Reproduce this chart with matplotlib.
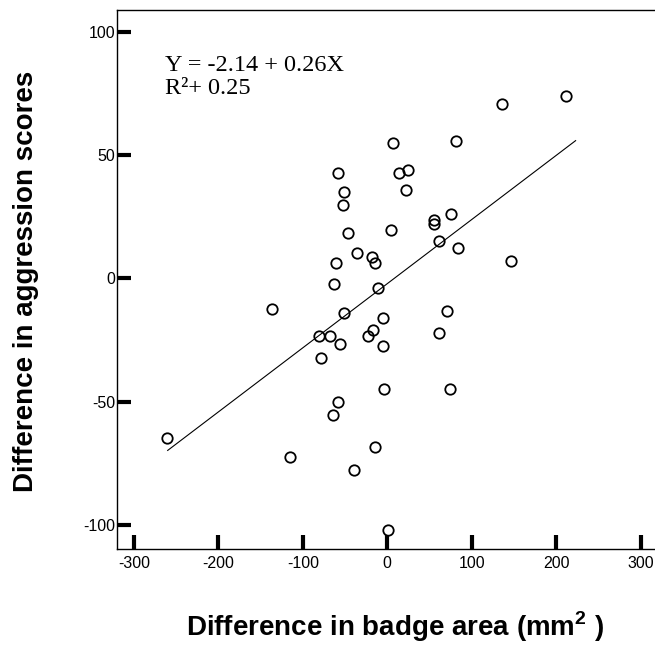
import matplotlib
matplotlib.use("Agg")
import matplotlib.pyplot as plt
import numpy as np

# Data
badge_diff = [135.3, 6.3, 81.3, -58.8, 13.4, 24.0, -50.9, -52.9, 22.1, -47.0,
              4.4, 55.6, 55.6, 75.4, 61.5, 84.0, -35.9, -18.1, -14.2, -60.7,
              146.4, 211.4,
              -62.7, -11.4, -136.5, -50.9, 70.2, -4.7, -16.6, -23.3, -81.3, -67.5,
              -56.0, -5.5, 60.7, -78.5, -3.6, 74.6, -58.8, -64.7, -261.1, -14.6,
              -115.1, -39.1, 1.2]
aggr_diff = [70.8, 54.9, 55.5, 42.7, 42.7, 44.0, 34.9, 29.7, 35.9, 18.2,
             19.8, 23.6, 22.0, 26.0, 15.2, 12.4, 10.1, 8.7, 6.2, 6.2,
             6.9, 73.9,
             -2.4, -3.8, -12.4, -14.0, -13.3, -16.2, -20.9, -23.2, -23.2, -23.2,
             -26.4, -27.3, -22.3, -32.3, -44.8, -44.8, -50.3, -55.4, -64.7, -68.3,
             -72.3, -77.6, -102.2]

intercept = -2.14
slope = 0.26
fit_range = [-260, 223]

xticks = [-300, -200, -100, 0, 100, 200, 300]
yticks = [-100, -50, 0, 50, 100]

plt.rcParams['font.family'] = ['Liberation Sans', 'DejaVu Sans']
plt.rcParams['axes.unicode_minus'] = False
plt.rcParams['mathtext.fontset'] = 'custom'
plt.rcParams['mathtext.rm'] = 'Liberation Sans'
plt.rcParams['mathtext.bf'] = 'Liberation Sans:bold'

fig = plt.figure(figsize=(6.55, 6.46), dpi=100)
ax = fig.add_axes([117/655, 1 - 549/646, 1 - 117/655, (549 - 10)/646])

ax.plot(badge_diff, aggr_diff, linestyle='none', marker='o', markersize=7.5,
        markerfacecolor='none', markeredgecolor='black', markeredgewidth=1.3)

xf = np.array(fit_range, dtype=float)
ax.plot(xf, intercept + slope * xf, color='black', linewidth=0.8)

ax.set_xlim(-320, 317)
ax.set_ylim(-109.7, 108.8)
ax.set_xticks(xticks)
ax.set_yticks(yticks)
ax.tick_params(direction='in', length=10, width=3, labelsize=11.5, color='black')
ax.tick_params(axis='x', pad=5)
ax.tick_params(axis='y', pad=1)
ax.spines['right'].set_visible(False)
for s in ['left', 'top', 'bottom']:
    ax.spines[s].set_linewidth(1.0)

fig.text(26/655, 1 - 281/646, 'Difference in aggression scores', rotation=90,
         fontsize=20, fontweight='bold', ha='center', va='center')
fig.text(395/655, 1 - 636/646, r'Difference in badge area (mm$^{\mathbf{2}}$ )',
         fontsize=20, fontweight='bold', ha='center', va='baseline')

fig.text(165/655, 1 - 71/646, 'Y = -2.14 + 0.26X',
         fontsize=17.5, family='Liberation Serif', ha='left', va='baseline')
fig.text(165/655, 1 - 94/646, 'R\u00b2+ 0.25',
         fontsize=17.5, family='Liberation Serif', ha='left', va='baseline')

fig.savefig('out.png', dpi=100)
